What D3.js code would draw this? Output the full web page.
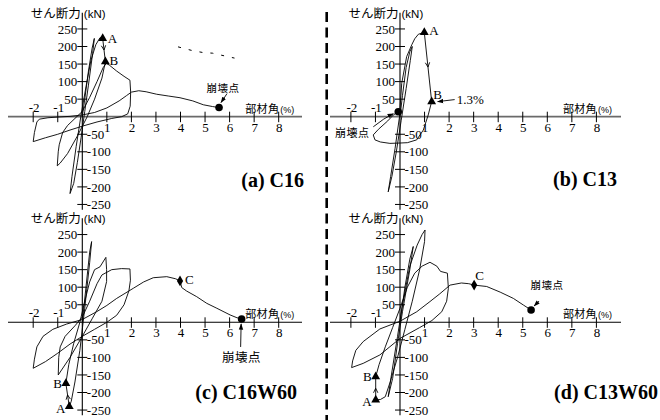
<!DOCTYPE html>
<html><head><meta charset="utf-8">
<script src="https://cdn.jsdelivr.net/npm/d3@7"></script>
<style>body{margin:0;background:#fff}svg{display:block}</style>
</head><body><svg id="c" width="660" height="420"></svg>
<script>
// ---------- data ----------
const xTicks = [-2,-1,1,2,3,4,5,6,7,8];
const yTicks = [250,200,150,100,50,-50,-100,-150,-200,-250];
const panelTitles = ["(a) C16","(b) C13","(c) C16W60","(d) C13W60"];
const yTitle = "せん断力", yUnit = "(kN)", xTitle = "部材角", xUnit = "(%)";
const collapseText = "崩壊点", driftNote = "1.3%";

const curveC16 = [[0,0],[0.1,50],[0.25,130],[0.4,195],[0.49,223],[0.42,180],[0.25,90],[0.1,15],[-0.05,-60],[-0.2,-130],[-0.35,-190],[-0.5,-219],
 [-0.42,-170],[-0.25,-85],[-0.05,5],[0.15,85],[0.35,160],[0.55,205],[0.72,225],[0.83,223],[0.94,157],
 [0.8,110],[0.5,50],[0.2,0],[-0.2,-55],[-0.6,-105],[-0.9,-132],[-1.02,-140],[-0.98,-100],[-0.94,-80],[-0.8,-45],[-0.6,-25],[-0.3,-5],
 [0,15],[0.3,55],[0.6,100],[0.85,140],[0.98,152],[1.1,147],[1.4,130],[1.7,115],[1.94,104],[1.97,70],[1.95,30],[1.85,8],[1.6,0],
 [1.2,-5],[0.6,-15],[0,-27],[-0.5,-38],[-1,-50],[-1.5,-60],[-2,-71],[-1.95,-45],[-1.85,-15],[-1.75,-7],[-1.4,-3],[-1,-1],[-0.5,1],
 [0,5],[0.5,12],[1,25],[1.5,45],[1.8,60],[2.0,70],[2.3,74],[2.6,71],[3.03,64],[3.5,59],[3.98,54],[4.5,45],[4.93,34],[5.3,29],[5.57,26]];
const curveC13 = [[0,0],[0.1,60],[0.25,140],[0.4,185],[0.5,200],[0.42,160],[0.25,80],[0.05,-10],[-0.15,-100],[-0.33,-170],[-0.48,-214],
 [-0.38,-170],[-0.2,-90],[-0.02,0],[0.07,95],[0.27,171],[0.48,205],[0.6,222],[0.75,235],[0.99,240],[1.29,43],[1.15,5],[0.95,-38],
 [0.68,-66],[0.3,-74],[0,-75],[-0.41,-76],[-0.8,-72],[-1.02,-66],[-1.09,-52],[-0.88,-36],[-0.5,-12],[-0.27,5],[-0.07,14]];
const curveC16W60 = [[0,0],[0.15,100],[0.3,200],[0.38,230],[0.3,170],[0.1,40],[-0.1,-80],[-0.3,-170],[-0.45,-225],[-0.53,-240],[-0.67,-174],
 [-0.55,-120],[-0.35,-60],[-0.1,0],[0.1,60],[0.3,115],[0.5,150],[0.72,158],[0.96,185],[0.99,150],[0.99,116],[0.8,60],[0.4,10],[0,-40],
 [-0.5,-100],[-0.98,-150],[-0.96,-100],[-0.9,-70],[-0.7,-40],[-0.3,-10],[0,15],[0.3,60],[0.6,110],[0.8,135],[1.2,150],[1.6,153],[1.94,152],
 [1.96,120],[1.9,90],[1.7,50],[1.4,20],[1.0,0],[0.5,-20],[0,-40],[-0.5,-62],[-1,-88],[-1.5,-112],[-2.0,-131],[-1.95,-105],[-1.85,-70],
 [-1.6,-40],[-1.2,-20],[-0.64,-5],[0,8],[0.58,30],[1.0,48],[1.4,68],[2.08,97],[2.5,115],[2.89,127],[3.44,130],[3.8,124],[3.98,118],
 [4.05,99],[4.25,89],[4.66,73],[5.07,54],[5.48,40],[6.02,21],[6.3,13],[6.49,9.5]];
const curveC13W60 = [[0,0],[0.2,100],[0.4,180],[0.54,216],[0.4,150],[0.1,30],[-0.1,-60],[-0.3,-160],[-0.48,-212],[-0.35,-150],[-0.1,-40],
 [0.1,50],[0.4,160],[0.7,220],[0.9,250],[1.02,263],[1.0,230],[0.8,150],[0.5,60],[0.2,-20],[-0.1,-100],[-0.4,-170],[-0.6,-212],[-0.8,-220],
 [-0.99,-221],[-0.99,-155],[-0.85,-120],[-0.6,-70],[-0.3,-15],[0,40],[0.3,100],[0.6,140],[0.9,160],[1.22,171],[1.5,160],[1.65,145],
 [1.93,140],[1.97,97],[1.9,60],[1.7,30],[1.3,5],[0.8,-15],[0,-46],[-0.82,-93],[-1.5,-117],[-1.97,-129],[-1.93,-110],[-1.8,-80],[-1.5,-55],
 [-0.82,-19],[0,3],[0.68,30],[1.22,59],[1.6,80],[2.04,106],[2.5,112],[2.8,110],[3.02,106],[3.53,102],[4.08,86],[4.62,68],[5.03,49],[5.34,35]];
const fragmentC16 = [[3.9,199],[4.5,188],[4.9,183],[5.3,181],[6.0,170],[6.2,167]];

const pointA = [[0.83,223],[0.99,240],[-0.53,-240],[-0.99,-221]];
const pointB = [[0.94,157],[1.29,43],[-0.67,-174],[-0.99,-155]];
const pointC = [null,null,[3.98,118],[3.02,106]];
const collapsePoint = [[5.57,26],[-0.07,14],[6.49,9.5],[5.34,35]];
const curves = [curveC16, curveC13, curveC16W60, curveC13W60];

// ---------- drawing ----------
const svg = d3.select("#c");
const serif = "'Liberation Serif','Times New Roman',serif";
const jp = "'Noto Sans CJK JP','Noto Sans',sans-serif";
const sans = "'Liberation Sans',Arial,sans-serif";
svg.append("rect").attr("width",660).attr("height",420).attr("fill","#fff");
const defs = svg.append("defs");
defs.append("marker").attr("id","ah").attr("viewBox","0 0 10 10").attr("refX",9).attr("refY",5)
  .attr("markerWidth",7).attr("markerHeight",7).attr("orient","auto-start-reverse")
  .append("path").attr("d","M0,1.5L10,5L0,8.5Z").attr("fill","#000");

const origins = [[82.3,116.7],[400,116.7],[82.3,322.3],[400,322.3]];
const unitX = 24.55, unitY = 0.351;

origins.forEach(([ox,oy],i)=>{
  const g = svg.append("g");
  const x = d3.scaleLinear().domain([-2,8]).range([ox-2*unitX, ox+8*unitX]);
  const y = d3.scaleLinear().domain([-250,250]).range([oy+250*unitY, oy-250*unitY]);
  const top = i<2;
  const left = i%2===0;
  // x axis
  g.append("line").attr("x1", left?8:330).attr("x2", left?302:621).attr("y1",oy).attr("y2",oy)
    .attr("stroke", top?"#6a6a6a":"#000").attr("stroke-width", top?1.7:1.1);
  // y axis
  g.append("line").attr("x1",ox).attr("x2",ox).attr("y1",oy-104).attr("y2",oy+93)
    .attr("stroke","#000").attr("stroke-width",1.1);
  // x ticks
  xTicks.forEach(t=>{
    g.append("line").attr("x1",x(t)).attr("x2",x(t)).attr("y1",oy-5).attr("y2",oy+5.5)
      .attr("stroke","#000").attr("stroke-width",1);
    g.append("text").attr("x",x(t)+(t>0?0.5:1)).attr("y", t<0? oy-5 : oy+15)
      .attr("text-anchor","middle").attr("font-family",serif).attr("font-size",13).text(t);
  });
  // y ticks
  yTicks.forEach(t=>{
    g.append("line").attr("x1",ox-5).attr("x2",ox+5).attr("y1",y(t)).attr("y2",y(t))
      .attr("stroke","#000").attr("stroke-width",1);
    g.append("text").attr("x", t>0? ox-5 : ox+4.5).attr("y",y(t)+4.6)
      .attr("text-anchor", t>0?"end":"start").attr("font-family",serif).attr("font-size",13)
      .text(t<0 ? "-"+Math.abs(t) : t);
  });
  // axis titles
  g.append("text").attr("x",ox-1.5).attr("y",oy-99).attr("text-anchor","end")
    .attr("font-family",jp).attr("font-size",12.5).text(yTitle);
  g.append("text").attr("x",ox+1.5).attr("y",oy-99).attr("font-family",sans).attr("font-size",11.5).text(yUnit);
  const xt = g.append("text").attr("x",ox+163).attr("y",oy-4).attr("font-family",jp);
  xt.append("tspan").attr("font-size",11).attr("letter-spacing",0.3).text(xTitle);
  xt.append("tspan").attr("font-size",9).attr("dx",1).attr("font-family",sans).text(xUnit);
  // panel title
  const tpos = [[304,186.5],[617,186],[297,399],[658,399]][i];
  g.append("text").attr("x",tpos[0]).attr("y",tpos[1]).attr("text-anchor","end")
    .attr("font-family",serif).attr("font-weight","bold").attr("font-size",20).text(panelTitles[i]);

  // curve
  const line = d3.line().x(d=>x(d[0])).y(d=>y(d[1])).curve(d3.curveLinear);
  g.append("path").attr("d",line(curves[i])).attr("fill","none").attr("stroke","#000")
    .attr("stroke-width",0.9).attr("stroke-linejoin","round");
  if(i===0){
    g.append("path").attr("d",line(fragmentC16)).attr("fill","none").attr("stroke","#000")
      .attr("stroke-width",1).attr("stroke-dasharray","3,8");
  }

  // A -> B chevron at midpoint
  const ax = x(pointA[i][0]), ay = y(pointA[i][1]), bx = x(pointB[i][0]), by = y(pointB[i][1]);
  const mx = (ax+bx)/2, my = (ay+by)/2, ang = Math.atan2(by-ay, bx-ax);
  const L = 5, sp = 0.45;
  g.append("path").attr("d",
      `M${mx-L*Math.cos(ang-sp)},${my-L*Math.sin(ang-sp)}L${mx},${my}L${mx-L*Math.cos(ang+sp)},${my-L*Math.sin(ang+sp)}`)
    .attr("fill","none").attr("stroke","#000").attr("stroke-width",0.9);

  // markers
  const tri = d3.symbol().type(d3.symbolTriangle).size(34);
  [[ax,ay],[bx,by]].forEach(p=>g.append("path").attr("d",tri()).attr("transform",`translate(${p[0]},${p[1]})`).attr("fill","#000"));
  if(pointC[i]){
    g.append("path").attr("d",d3.symbol().type(d3.symbolDiamond).size(34)())
      .attr("transform",`translate(${x(pointC[i][0])},${y(pointC[i][1])})`).attr("fill","#000");
  }
  const cx = x(collapsePoint[i][0]), cy = y(collapsePoint[i][1]);
  g.append("circle").attr("cx",cx).attr("cy",cy).attr("r",3.8).attr("fill","#000");

  const lbl = (tx,ty,s,anchor)=>g.append("text").attr("x",tx).attr("y",ty).attr("text-anchor",anchor||"start")
      .attr("font-family",serif).attr("font-size",13).text(s);
  const arrow = (d)=>g.append("path").attr("d",d).attr("fill","none").attr("stroke","#000")
      .attr("stroke-width",0.9).attr("marker-end","url(#ah)");
  const jpLabel = (tx,ty,fs)=>g.append("text").attr("x",tx).attr("y",ty).attr("text-anchor","middle")
      .attr("font-family",jp).attr("font-size",fs).attr("letter-spacing",0.5).text(collapseText);

  if(i===0){
    lbl(ax+5,ay+4.5,"A"); lbl(bx+4,by+3,"B");
    jpLabel(cx+4,cy-16,10.5);
    arrow(`M${cx+8},${cy-14}L${cx+2},${cy-5}`);
  } else if(i===1){
    lbl(ax+5,ay+3,"A"); lbl(bx+1.5,by-2.5,"B");
    lbl(bx+25,by+2.5,driftNote);
    arrow(`M${bx+23},${by-2}L${bx+6},${by}`);
    jpLabel(cx-46,cy+25,11);
    arrow(`M${cx-25},${cy+15}Q${cx-14},${cy+6} ${cx-5},${cy+2}`);
  } else if(i===2){
    lbl(bx-4,by+4.5,"B","end"); lbl(ax-4,ay+6,"A","end");
    lbl(x(pointC[i][0])+5,y(pointC[i][1])+3,"C");
    jpLabel(cx,cy+43,12.5);
    arrow(`M${cx-1},${cy+28}L${cx-0.5},${cy+5}`);
  } else {
    lbl(bx-4,by+4.5,"B","end"); lbl(ax-4,ay+6,"A","end");
    lbl(x(pointC[i][0])+1,y(pointC[i][1])-5,"C");
    jpLabel(cx+16,cy-21,10.5);
    arrow(`M${cx+8},${cy-9}L${cx+3},${cy-4}`);
  }
});

// dashed divider
svg.append("line").attr("x1",326.7).attr("x2",326.7).attr("y1",12).attr("y2",420)
  .attr("stroke","#000").attr("stroke-width",2.6).attr("stroke-dasharray","10,5.5");
</script></body></html>
